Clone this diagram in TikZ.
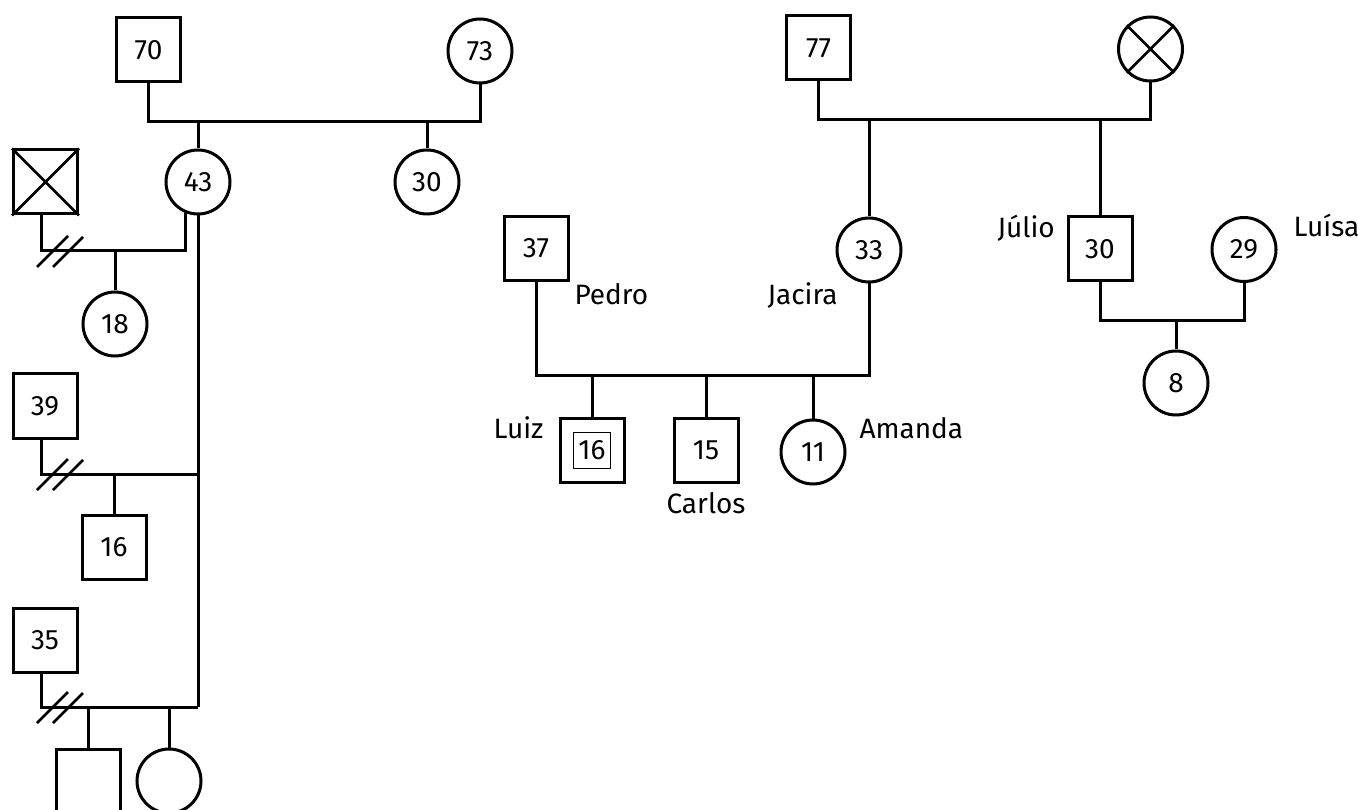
\documentclass[tikz,border=0pt]{standalone}
\usepackage{fontspec}
\setmainfont{Fira Sans}
\usetikzlibrary{calc}
\begin{document}
\begin{tikzpicture}[x=1pt,y=-1pt,line width=3pt,
  txt/.style={font=\fontsize{28}{33}\selectfont},
  sq/.style={draw,rectangle,minimum size=64pt,inner sep=0pt,txt},
  ci/.style={draw,circle,minimum size=64pt,inner sep=0pt,txt},
  lbl/.style={anchor=base west,inner sep=0pt,txt},
  slash/.style={line width=2.5pt}]
\clip (0,0) rectangle (1358,810);
% left family
\node[sq] (p70) at (148.5,50) {70};
\node[ci] (p73) at (480,51) {73};
\node[ci] (p43) at (198,182) {43};
\node[ci] (p30a) at (427,182) {30};
\node[sq] (pX) at (45.5,182) {};
\draw[line width=2.5pt] (pX.north west) -- (pX.south east) (pX.north east) -- (pX.south west);
\node[ci] (p18) at (115,324) {18};
\node[sq] (p39) at (45,406) {39};
\node[sq] (p16a) at (114,547) {16};
\node[sq] (p35) at (45,640) {35};
\node[sq] (pSq) at (88,781) {};
\node[ci] (pCi) at (169,781) {};
\coordinate (m1) at (0,122);
\coordinate (m2) at (0,251);
\coordinate (m3) at (198,474);
\coordinate (m4) at (198,707);
\draw (p70.south) |- (m1 -| p73) -- (p73.south);
\draw (m1 -| p43) -- (p43.north);
\draw (m1 -| p30a) -- (p30a.north);
\draw ([xshift=-4pt]pX.south) |- (p43.-111 |- m2) -- (p43.-111);
\draw (m2 -| p18) -- (p18.north);
\draw (p43.south) -- (m4);
\draw ([xshift=-4pt]p39.south) |- (m3);
\draw (m3 -| p16a) -- (p16a.north);
\draw ([xshift=-4pt]p35.south) |- (m4);
\draw (m4 -| pSq) -- (pSq.north);
\draw (m4 -| pCi) -- (pCi.north);
% divorce slashes
\foreach \y in {251,474,707}{
  \draw[slash] (37,\y+16) -- (68,\y-15);
  \draw[slash] (53,\y+16) -- (83,\y-14);
}
% middle family
\node[sq] (p37) at (536,248.5) {37};
\node[ci] (p33) at (869,250) {33};
\node[sq] (luiz) at (592,450) {};
\node[draw,line width=1pt,minimum width=37pt,minimum height=36pt,inner sep=0pt,txt] (luizin) at (luiz) {16};
\node[sq] (p15) at (706,450) {15};
\node[ci] (p11) at (813,452) {11};
\coordinate (m5) at (0,376);
\draw (p37.south) |- (m5 -| p33) -- (p33.south);
\draw (m5 -| luiz) -- (luiz.north);
\draw (m5 -| p15) -- (p15.north);
\draw (m5 -| p11) -- (p11.north);
\node[lbl] (tpedro) at (573,305) {Pedro};
\node[lbl] (tjacira) at (766,305) {Jacira};
\node[lbl] (tluiz) at (492,438) {Luiz};
\node[anchor=base,inner sep=0pt,txt] (tcarlos) at (706,513) {Carlos};
\node[lbl] (tamanda) at (858,438) {Amanda};
% right family
\node[sq] (p77) at (818.5,48) {77};
\node[ci] (pXc) at (1150.5,49) {};
\draw[line width=2.5pt] (pXc.45) -- (pXc.225) (pXc.135) -- (pXc.-45);
\node[sq] (p30b) at (1100,249) {30};
\node[ci] (p29) at (1244,249.5) {29};
\node[ci] (p8) at (1176,383) {8};
\coordinate (m6) at (0,120);
\coordinate (m7) at (0,321);
\draw (p77.south) |- (m6 -| pXc) -- (pXc.south);
\draw (m6 -| p33) -- (p33.north);
\draw (m6 -| p30b) -- (p30b.north);
\draw (p30b.south) |- (m7 -| p29) -- (p29.south);
\draw (m7 -| p8) -- (p8.north);
\node[lbl] (tjulio) at (996,238) {Júlio};
\node[lbl] (tluisa) at (1292,237) {Luísa};
\end{tikzpicture}
\end{document}
